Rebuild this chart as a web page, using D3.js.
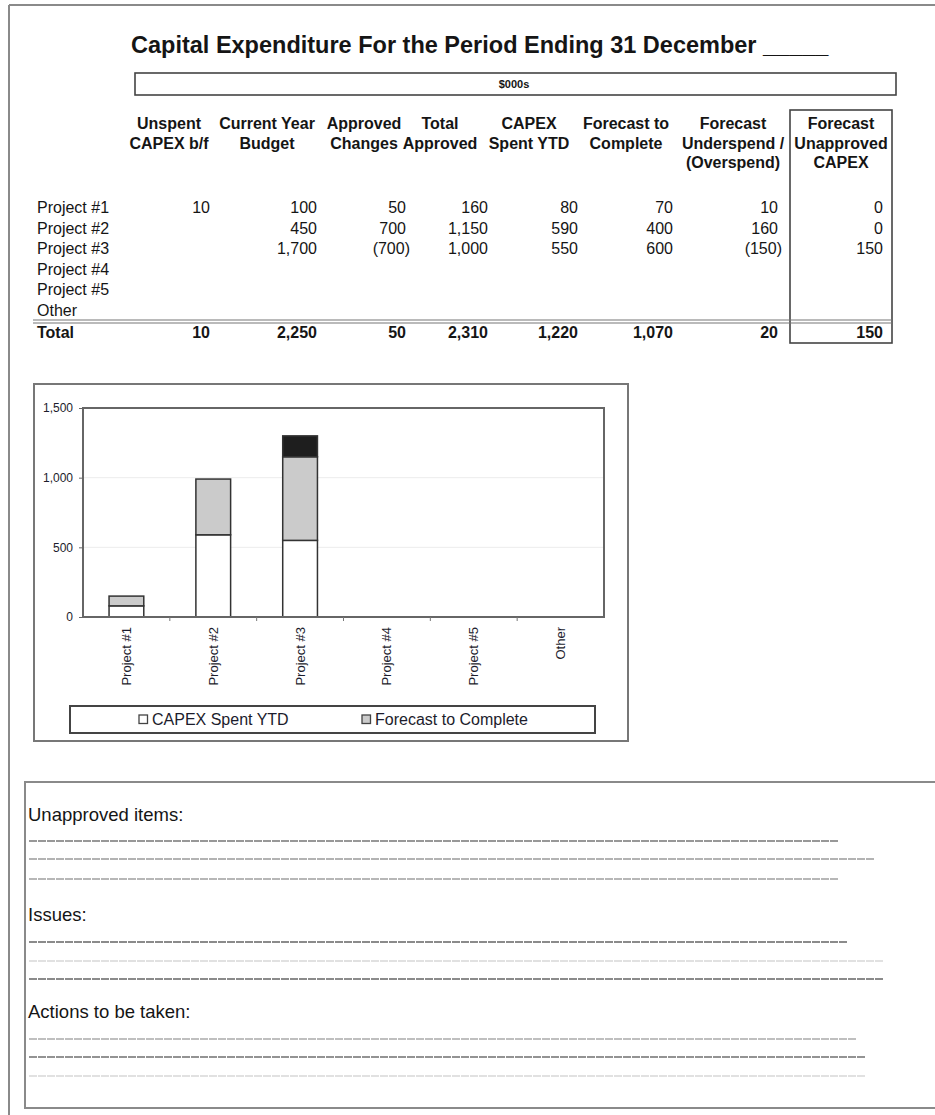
<!DOCTYPE html>
<html>
<head>
<meta charset="utf-8">
<script src="https://cdn.jsdelivr.net/npm/d3@7"></script>
<style>
  html, body { margin: 0; padding: 0; background: #fff; }
  svg { display: block; font-family: "Liberation Sans", Arial, sans-serif; }
</style>
</head>
<body>
<svg id="page" width="935" height="1115"></svg>
<script>
// ---------------- DATA ----------------
const projects = ["Project #1", "Project #2", "Project #3", "Project #4", "Project #5", "Other"];
const columnHeaders = [
  ["Unspent", "CAPEX b/f"],
  ["Current Year", "Budget"],
  ["Approved", "Changes"],
  ["Total", "Approved"],
  ["CAPEX", "Spent YTD"],
  ["Forecast to", "Complete"],
  ["Forecast", "Underspend /", "(Overspend)"],
  ["Forecast", "Unapproved", "CAPEX"]
];
const unspentBF          = [10, null, null, null, null, null];
const currentYearBudget  = [100, 450, 1700, null, null, null];
const approvedChanges    = [50, 700, -700, null, null, null];
const totalApproved      = [160, 1150, 1000, null, null, null];
const capexSpentYTD      = [80, 590, 550, null, null, null];
const forecastToComplete = [70, 400, 600, null, null, null];
const forecastUnderOver  = [10, 160, -150, null, null, null];
const forecastUnapproved = [0, 0, 150, null, null, null];
const totals             = [10, 2250, 50, 2310, 1220, 1070, 20, 150];
const yTicks = [0, 500, 1000, 1500];
const legendLabels = ["CAPEX Spent YTD", "Forecast to Complete"];
const noteHeadings = ["Unapproved items:", "Issues:", "Actions to be taken:"];

// ---------------- PAGE ----------------
const svg = d3.select("#page");
const ink = "#151515";

// page border (top + left)
svg.append("line").attr("x1", 9).attr("y1", 5).attr("x2", 935).attr("y2", 5)
  .attr("stroke", "#8a8a8a").attr("stroke-width", 2);
svg.append("line").attr("x1", 9).attr("y1", 5).attr("x2", 9).attr("y2", 1115)
  .attr("stroke", "#8a8a8a").attr("stroke-width", 2);

// title
svg.append("text").attr("x", 131).attr("y", 53)
  .attr("font-size", 23.5).attr("font-weight", "bold").attr("fill", ink)
  .text("Capital Expenditure For the Period Ending 31 December _____");

// $000s box
svg.append("rect").attr("x", 135).attr("y", 73).attr("width", 761).attr("height", 22)
  .attr("fill", "none").attr("stroke", "#444").attr("stroke-width", 1.6);
svg.append("text").attr("x", 514).attr("y", 88).attr("text-anchor", "middle")
  .attr("font-size", 11).attr("font-weight", "bold").attr("fill", ink).text("$000s");

// ---------------- TABLE ----------------
const colCenters = [169, 267, 364, 440, 529, 626, 733, 841];
const colRights  = [210, 317, 406, 488, 578, 673, 778, 883];
const headerBaselines = [129, 149, 168];
const rowY = d3.scalePoint().domain(projects).range([213, 315.5]);
const totalBaseline = 337.5;

const fmtNum = d3.format(",");
const fmt = v => v == null ? "" : (v < 0 ? "(" + fmtNum(-v) + ")" : fmtNum(v));

// headers
const hdr = svg.append("g").attr("font-size", 16).attr("font-weight", "bold").attr("fill", ink)
  .attr("text-anchor", "middle");
columnHeaders.forEach((lines, ci) => {
  hdr.selectAll(null).data(lines).join("text")
    .attr("x", colCenters[ci]).attr("y", (d, i) => headerBaselines[i]).text(d => d);
});

// unapproved box
svg.append("rect").attr("x", 790).attr("y", 110).attr("width", 102).attr("height", 233)
  .attr("fill", "none").attr("stroke", "#444").attr("stroke-width", 1.6);

// body rows
const columns = [unspentBF, currentYearBudget, approvedChanges, totalApproved,
                 capexSpentYTD, forecastToComplete, forecastUnderOver, forecastUnapproved];
const body = svg.append("g").attr("font-size", 16).attr("fill", ink);
body.selectAll("text.lbl").data(projects).join("text").attr("class", "lbl")
  .attr("x", 37).attr("y", d => rowY(d)).text(d => d);
columns.forEach((col, ci) => {
  body.selectAll(null).data(col.map((v, i) => ({v, p: projects[i]})).filter(d => d.v != null)).join("text")
    .attr("text-anchor", "end")
    .attr("x", d => colRights[ci] + (d.v < 0 ? 4 : 0))
    .attr("y", d => rowY(d.p)).text(d => fmt(d.v));
});

// separator double line
[320, 323].forEach(y => svg.append("line").attr("x1", 33).attr("x2", 892).attr("y1", y).attr("y2", y)
  .attr("stroke", "#777").attr("stroke-width", 1.2));

// total row
const tot = svg.append("g").attr("font-size", 16).attr("font-weight", "bold").attr("fill", ink);
tot.append("text").attr("x", 37).attr("y", totalBaseline).text("Total");
tot.selectAll(null).data(totals).join("text").attr("text-anchor", "end")
  .attr("x", (d, i) => colRights[i] + (d < 0 ? 4 : 0)).attr("y", totalBaseline).text(d => fmt(d));

// ---------------- CHART ----------------
svg.append("rect").attr("x", 34).attr("y", 384).attr("width", 594).attr("height", 357)
  .attr("fill", "#fff").attr("stroke", "#777").attr("stroke-width", 2);

const plot = {left: 83, right: 604, top: 408, bottom: 617};
const x = d3.scaleBand().domain(projects).range([plot.left, plot.right])
  .paddingInner(0.6).paddingOuter(0.3);
const y = d3.scaleLinear().domain([0, 1500]).range([plot.bottom, plot.top]);

// gridlines
svg.append("g").selectAll("line").data(yTicks.filter(t => t > 0 && t < 1500)).join("line")
  .attr("x1", plot.left).attr("x2", plot.right).attr("y1", d => y(d)).attr("y2", d => y(d))
  .attr("stroke", "#ececec").attr("stroke-width", 1);

// stacked bars
const stackData = projects.map((p, i) => ({
  project: p,
  spent: capexSpentYTD[i] || 0,
  forecast: forecastToComplete[i] || 0,
  unapproved: forecastUnapproved[i] || 0
}));
const keys = ["spent", "forecast", "unapproved"];
const fills = {spent: "#ffffff", forecast: "#cbcbcb", unapproved: "#1e1e1e"};
const series = d3.stack().keys(keys)(stackData);
svg.append("g").selectAll("g").data(series).join("g")
  .attr("fill", d => fills[d.key])
  .selectAll("rect").data(d => d.filter(s => s[1] - s[0] > 0)).join("rect")
  .attr("x", d => x(d.data.project)).attr("width", x.bandwidth())
  .attr("y", d => y(d[1])).attr("height", d => y(d[0]) - y(d[1]))
  .attr("stroke", "#333").attr("stroke-width", 1.5);

// plot border
svg.append("rect").attr("x", plot.left).attr("y", plot.top)
  .attr("width", plot.right - plot.left).attr("height", plot.bottom - plot.top)
  .attr("fill", "none").attr("stroke", "#666").attr("stroke-width", 2);

// y axis
const yAxis = svg.append("g").attr("transform", `translate(${plot.left},0)`)
  .call(d3.axisLeft(y).tickValues(yTicks).tickFormat(d3.format(",")).tickSize(4).tickPadding(6));
yAxis.select(".domain").remove();
yAxis.selectAll(".tick line").attr("stroke", "#666");
yAxis.selectAll("text").attr("font-size", 12).attr("fill", "#1c1c2c")
  .attr("font-family", "'Liberation Sans', Arial, sans-serif");

// x axis category boundary ticks
const step = x.step();
const boundaries = d3.range(1, projects.length).map(i => plot.left + i * step);
svg.append("g").selectAll("line").data(boundaries).join("line")
  .attr("x1", d => d).attr("x2", d => d).attr("y1", plot.bottom).attr("y2", plot.bottom + 4)
  .attr("stroke", "#777");

// x labels (rotated)
const xAxis = svg.append("g").attr("transform", `translate(0,${plot.bottom})`)
  .call(d3.axisBottom(x).tickSize(0).tickPadding(0));
xAxis.select(".domain").remove();
xAxis.selectAll("text")
  .attr("font-size", 13).attr("fill", "#1c1c2c")
  .attr("font-family", "'Liberation Sans', Arial, sans-serif")
  .attr("text-anchor", "end")
  .attr("transform", "rotate(-90)")
  .attr("x", -10).attr("y", 0).attr("dy", "0.35em");

// legend
svg.append("rect").attr("x", 70).attr("y", 706).attr("width", 525).attr("height", 27)
  .attr("fill", "#fff").attr("stroke", "#444").attr("stroke-width", 2);
const legendX = [139, 362];
const leg = svg.append("g").selectAll("g").data(legendLabels).join("g")
  .attr("transform", (d, i) => `translate(${legendX[i]},715)`);
leg.append("rect").attr("width", 8.5).attr("height", 8.5)
  .attr("fill", (d, i) => fills[keys[i]]).attr("stroke", "#444").attr("stroke-width", 1.3);
leg.append("text").attr("x", 13).attr("y", 10).attr("font-size", 16).attr("fill", "#1c1c2c")
  .text(d => d);

// ---------------- NOTES ----------------
svg.append("rect").attr("x", 25).attr("y", 782).attr("width", 930).attr("height", 326)
  .attr("fill", "none").attr("stroke", "#8a8a8a").attr("stroke-width", 2);
const headingY = [821, 921, 1018];
svg.append("g").attr("font-size", 18.5).attr("fill", ink)
  .selectAll("text").data(noteHeadings).join("text")
  .attr("x", 28).attr("y", (d, i) => headingY[i]).text(d => d);

const noteLineY   = [841, 859, 879, 942, 961, 979, 1039, 1057, 1076];
const noteLineEnd = [838, 874, 838, 847, 883, 883, 856, 865, 865];
const noteLineCol = ["#777", "#9a9a9a", "#a0a0a0", "#666", "#d8d8d8", "#666", "#aaa", "#707070", "#d8d8d8"];
svg.append("g").selectAll("line").data(noteLineY).join("line")
  .attr("x1", 29).attr("x2", (d, i) => noteLineEnd[i])
  .attr("y1", d => d).attr("y2", d => d)
  .attr("stroke", (d, i) => noteLineCol[i]).attr("stroke-width", 1.5)
  .attr("stroke-dasharray", "8 1");
</script>
</body>
</html>
